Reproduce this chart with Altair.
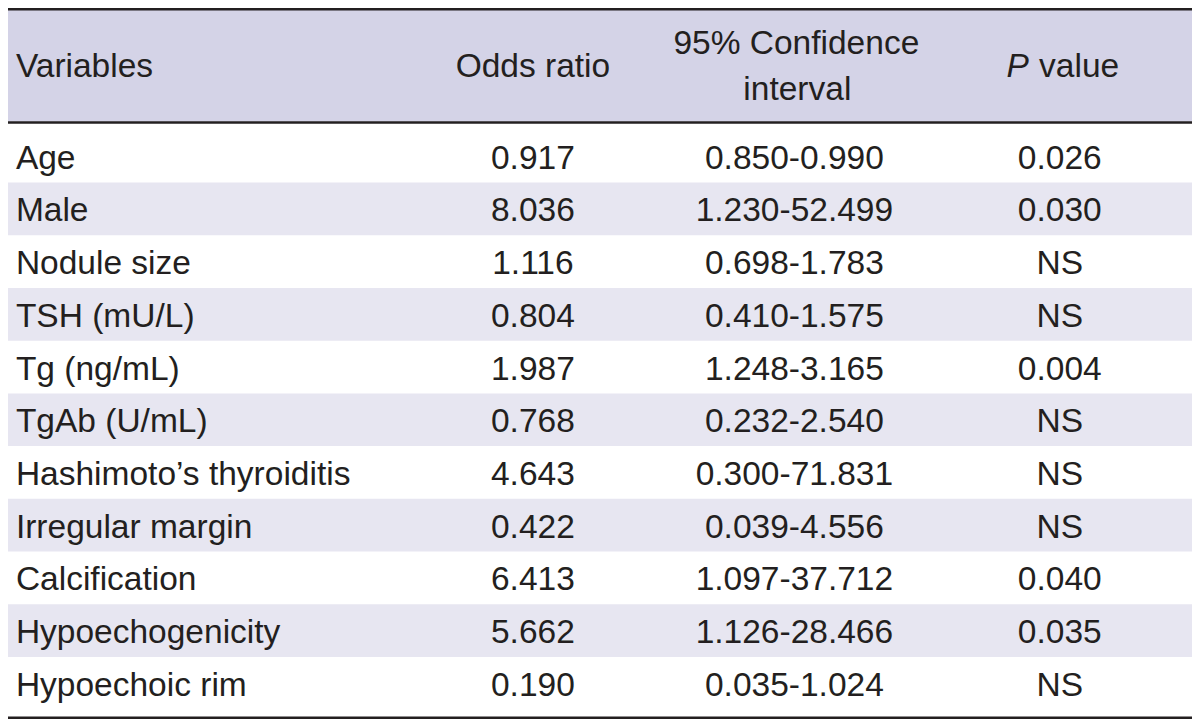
import altair as alt
import pandas as pd

variables = ["Age", "Male", "Nodule size", "TSH (mU/L)", "Tg (ng/mL)", "TgAb (U/mL)",
             "Hashimoto\u2019s thyroiditis", "Irregular margin", "Calcification",
             "Hypoechogenicity", "Hypoechoic rim"]
odds_ratio = ["0.917", "8.036", "1.116", "0.804", "1.987", "0.768", "4.643", "0.422",
              "6.413", "5.662", "0.190"]
conf_int = ["0.850-0.990", "1.230-52.499", "0.698-1.783", "0.410-1.575", "1.248-3.165",
            "0.232-2.540", "0.300-71.831", "0.039-4.556", "1.097-37.712", "1.126-28.466",
            "0.035-1.024"]
p_values = ["0.026", "0.030", "NS", "NS", "0.004", "NS", "NS", "NS", "0.040", "0.035", "NS"]

header_var = "Variables"
header_or = "Odds ratio"
header_ci = ["95% Confidence", "interval"]
header_p_italic = "P"
header_p_rest = "value"

W, H = 1184, 711
SX, SY = W / 1200, H / 727
FONT = "Liberation Sans, Arial, sans-serif"
FS = 33.5
TXT = "#231f20"
HEAD_BG = "#d4d3e7"
STRIPE = "#e7e6f1"

df = pd.DataFrame({
    "idx": list(range(len(variables))),
    "var": variables,
    "odds": odds_ratio,
    "ci": conf_int,
    "p": p_values,
})
one = pd.DataFrame({"k": [0]})

yscale = alt.Scale(domain=[-2.811, 10.677], reverse=True, nice=False, zero=False)
Y = alt.Y("idx:Q", scale=yscale, axis=None)

stripes = alt.Chart(df).transform_filter("datum.idx % 2 == 1").transform_calculate(
    y0="datum.idx - 0.5", y1="datum.idx + 0.5"
).mark_rect(color=STRIPE).encode(
    x=alt.value(0), x2=alt.value(W),
    y=alt.Y("y0:Q", scale=yscale, axis=None), y2="y1:Q",
)

header_bg = alt.Chart(one).mark_rect(color=HEAD_BG).encode(
    x=alt.value(0), x2=alt.value(W), y=alt.value(2 * SY), y2=alt.value(116 * SY)
)


def hrule(yref, w=2.6):
    return alt.Chart(one).mark_rule(color="#231f20", strokeWidth=w).encode(
        x=alt.value(0), x2=alt.value(W), y=alt.value(yref * SY)
    )


def col_text(field, xref, align):
    return alt.Chart(df).mark_text(
        font=FONT, fontSize=FS, color=TXT, align=align, baseline="alphabetic", dy=12.5
    ).encode(x=alt.value(xref * SX), y=Y, text=f"{field}:N")


def head_text(txt, xref, yref, align="center", style="normal"):
    d = pd.DataFrame({"t": [txt]})
    return alt.Chart(d).mark_text(
        font=FONT, fontSize=FS, color=TXT, align=align, baseline="alphabetic",
        fontStyle=style
    ).encode(x=alt.value(xref * SX), y=alt.value(yref * SY), text="t:N")


layers = [
    header_bg,
    stripes,
    hrule(1.2),
    hrule(117),
    hrule(725.8),
    head_text(header_var, 8, 71, align="left"),
    head_text(header_or, 532, 71),
    head_text(header_ci[0], 799, 47.5),
    head_text(header_ci[1], 800, 94.5),
    head_text(header_p_italic, 1012, 71, align="left", style="italic"),
    head_text(header_p_rest, 1045, 71, align="left"),
    col_text("var", 8, "left"),
    col_text("odds", 532, "center"),
    col_text("ci", 797, "center"),
    col_text("p", 1066, "center"),
]

chart = alt.layer(*layers).properties(
    width=W, height=H, padding=0, autosize="none"
).configure_view(strokeWidth=0)

chart.save("out.html", embed_options={"renderer": "svg", "actions": False})
